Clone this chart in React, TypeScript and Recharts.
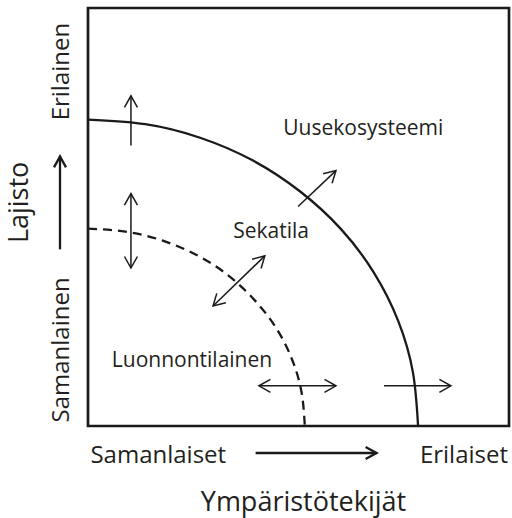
import { ComposedChart, Line, Scatter, XAxis, YAxis, ReferenceLine, ReferenceArea } from "recharts";

// quarter arcs, in percent of the box (0 = bottom-left corner)
const outerCurve = [
  { x: 0, y: 73.3 }, { x: 13.6, y: 72.2 }, { x: 26.8, y: 68.9 }, { x: 39.2, y: 63.5 },
  { x: 50.4, y: 56.1 }, { x: 60.1, y: 47.1 }, { x: 67.9, y: 36.7 }, { x: 73.7, y: 25.1 },
  { x: 77.2, y: 12.7 }, { x: 78.4, y: 0 },
];
const innerCurve = [
  { x: 0, y: 47.2 }, { x: 8.9, y: 46.5 }, { x: 17.6, y: 44.4 }, { x: 25.8, y: 40.9 },
  { x: 33.1, y: 36.2 }, { x: 39.4, y: 30.3 }, { x: 44.6, y: 23.6 }, { x: 48.4, y: 16.1 },
  { x: 50.7, y: 8.2 }, { x: 51.5, y: 0 },
];

const arrows = [
  { x1: 10.2, y1: 67.1, x2: 10.2, y2: 79.0, both: false },
  { x1: 10.2, y1: 37.8, x2: 10.2, y2: 55.6, both: true },
  { x1: 49.9, y1: 52.5, x2: 58.9, y2: 61.1, both: false },
  { x1: 29.7, y1: 28.7, x2: 42.0, y2: 40.7, both: true },
  { x1: 40.6, y1: 9.6, x2: 58.9, y2: 9.6, both: true },
  { x1: 70.3, y1: 9.6, x2: 86.2, y2: 9.6, both: false },
];

const regionLabels = [
  { x: 65.4, y: 71.6, text: "Uusekosysteemi" },
  { x: 43.5, y: 46.9, text: "Sekatila" },
  { x: 24.7, y: 16.0, text: "Luonnontilainen" },
];

const xTicks = [16.7, 54.3, 89.3];
const xTickLabels = ["Samanlaiset", "", "Erilaiset"];
const yTicks = [18.2, 53.5, 84.8];
const yTickLabels = ["Samanlainen", "", "Erilainen"];
const xTitle = "Ympäristötekijät";
const yTitle = "Lajisto";

const ink = "#1a1a1a";
const textColor = "#231f20";
const font = "'Open Sans', sans-serif";

const XTick = (props: any) => {
  const { x, y, index } = props;
  const label = xTickLabels[index];
  if (!label) {
    return <line x1={x - 61} y1={y + 27} x2={x + 60} y2={y + 27} stroke={ink} strokeWidth={2.3} markerEnd="url(#arrowBold)" />;
  }
  return (
    <text x={x} y={y + 27} textAnchor="middle" dominantBaseline="central" fill={textColor} fontSize={24} fontFamily={font}>
      {label}
    </text>
  );
};

const YTick = (props: any) => {
  const { x, y, index } = props;
  const label = yTickLabels[index];
  if (!label) {
    return (
      <g>
        <line x1={x - 28} y1={y + 47} x2={x - 28} y2={y - 46} stroke={ink} strokeWidth={2.3} markerEnd="url(#arrowBold)" />
        <text x={x - 70} y={y} transform={`rotate(-90, ${x - 70}, ${y})`} textAnchor="middle" dominantBaseline="central" fill={textColor} fontSize={27} fontFamily={font}>
          {yTitle}
        </text>
      </g>
    );
  }
  return (
    <text x={x - 28} y={y} transform={`rotate(-90, ${x - 28}, ${y})`} textAnchor="middle" dominantBaseline="central" fill={textColor} fontSize={24} fontFamily={font}>
      {label}
    </text>
  );
};

const RegionText = (props: any) => (
  <text x={props.cx} y={props.cy} textAnchor="middle" dominantBaseline="central" fill={textColor} fontSize={21} fontFamily={font}>
    {props.payload.text}
  </text>
);

export default function App() {
  return (
    <div style={{ position: "fixed", top: 0, left: 0, width: 512, height: 518, background: "#fff" }}>
      <svg width={0} height={0} style={{ position: "absolute" }}>
        <defs>
          <marker id="arrowThin" markerUnits="userSpaceOnUse" markerWidth={16} markerHeight={16} refX={13} refY={8} orient="auto-start-reverse">
            <path d="M1.5,1.5 L13,8 L1.5,14.5" fill="none" stroke={ink} strokeWidth={1.5} />
          </marker>
          <marker id="arrowBold" markerUnits="userSpaceOnUse" markerWidth={16} markerHeight={16} refX={13} refY={8} orient="auto">
            <path d="M2,2 L13,8 L2,14" fill="none" stroke={ink} strokeWidth={2.3} />
          </marker>
        </defs>
      </svg>
      <ComposedChart width={512} height={518} margin={{ top: 8, right: 3, bottom: 0, left: 0 }}>
        <XAxis
          type="number"
          dataKey="x"
          domain={[0, 100]}
          ticks={xTicks}
          interval={0}
          axisLine={false}
          tickLine={false}
          tickSize={0}
          tickMargin={0}
          height={92}
          tick={<XTick />}
          label={{
            content: ({ viewBox }: any) => (
              <text x={viewBox.x + viewBox.width / 2 + 5} y={viewBox.y + 74} textAnchor="middle" dominantBaseline="central" fill={textColor} fontSize={27} fontFamily={font}>
                {xTitle}
              </text>
            ),
          }}
        />
        <YAxis
          type="number"
          dataKey="y"
          domain={[0, 100]}
          ticks={yTicks}
          interval={0}
          axisLine={false}
          tickLine={false}
          tickSize={0}
          tickMargin={0}
          width={88}
          tick={<YTick />}
        />
        <ReferenceArea x1={0} x2={100} y1={0} y2={100} fill="none" stroke={ink} strokeWidth={2.7} />
        <Line data={outerCurve} dataKey="y" type="natural" stroke={ink} strokeWidth={2.3} dot={false} isAnimationActive={false} />
        <Line data={innerCurve} dataKey="y" type="natural" stroke={ink} strokeWidth={2.3} strokeDasharray="9 6" dot={false} isAnimationActive={false} />
        {arrows.map((a, i) => (
          <ReferenceLine
            key={i}
            segment={[{ x: a.x1, y: a.y1 }, { x: a.x2, y: a.y2 }]}
            stroke={ink}
            strokeWidth={1.5}
            markerEnd="url(#arrowThin)"
            markerStart={a.both ? "url(#arrowThin)" : undefined}
          />
        ))}
        <Scatter data={regionLabels} dataKey="y" shape={<RegionText />} isAnimationActive={false} />
      </ComposedChart>
    </div>
  );
}
